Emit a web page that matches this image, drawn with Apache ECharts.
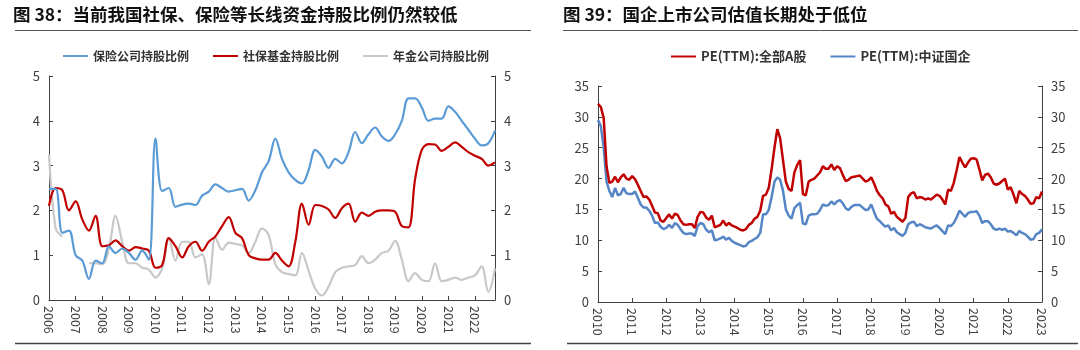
<!DOCTYPE html>
<html><head><meta charset="utf-8">
<script src="https://cdn.jsdelivr.net/npm/echarts/dist/echarts.min.js"></script>
<style>html,body{margin:0;padding:0;background:#fff}#c{width:1080px;height:350px}</style>
</head><body><div id="c"></div>
<script>
// ---- Left chart (quarterly, 2006Q1 - 2022Q4) ----
const yearsLeft = [2006,2007,2008,2009,2010,2011,2012,2013,2014,2015,2016,2017,2018,2019,2020,2021,2022];
const insuranceRatio = [
  2.48,2.48,1.5,1.55, 1.0,0.88,0.47,0.88, 0.82,1.2,1.05,1.15, 1.05,0.9,1.1,0.9,
  3.6,2.43,2.5,2.08, 2.13,2.15,2.12,2.33, 2.42,2.58,2.5,2.42, 2.45,2.48,2.22,2.45,
  2.85,3.1,3.6,3.15, 2.85,2.68,2.6,2.9, 3.35,3.2,2.95,3.15, 3.05,3.3,3.75,3.5,
  3.7,3.85,3.65,3.55, 3.7,4.0,4.5,4.5, 4.3,4.0,4.05,4.05, 4.32,4.2,4.0,3.8,
  3.6,3.45,3.5,3.78];
const socialSecurityRatio = [
  2.1,2.5,2.45,2.0, 2.2,1.8,1.55,1.88, 1.2,1.22,1.33,1.2, 1.1,1.18,1.15,1.1,
  0.72,0.78,1.38,1.2, 0.95,1.2,1.3,1.1, 1.3,1.42,1.65,1.85, 1.5,1.38,1.0,0.93,
  0.9,0.9,1.05,0.88, 0.75,1.3,2.15,1.68, 2.12,2.1,2.02,1.83, 2.05,2.15,1.75,1.95,
  1.88,1.97,2.0,2.0, 1.97,1.65,1.62,2.7, 3.35,3.48,3.47,3.33, 3.42,3.52,3.42,3.3,
  3.22,3.15,3.0,3.07];
const pensionRatio = [
  3.25,1.6,1.42,null, null,null,0.82,0.82, 0.8,1.15,1.88,1.3, 0.82,0.82,0.72,0.68,
  0.5,0.7,1.38,0.88, 1.3,1.3,0.95,1.02, 0.35,1.4,1.12,1.28, 1.25,1.22,1.05,1.3,
  1.6,1.45,0.8,0.62, 0.58,0.55,1.05,0.65, 0.25,0.1,0.3,0.62, 0.72,0.75,0.78,0.98,
  0.82,0.9,1.05,1.1, 1.32,0.9,0.42,0.6, 0.45,0.42,0.82,0.42, 0.45,0.5,0.45,0.5,
  0.55,0.75,0.18,0.7];
const leftNames = ['保险公司持股比例','社保基金持股比例','年金公司持股比例'];

// ---- Right chart (monthly, 2010-01 - 2023-01) ----
const yearsRight = [2010,2011,2012,2013,2014,2015,2016,2017,2018,2019,2020,2021,2022,2023];
const peAllA = [
  32.1,31.6,29.8,22.0,19.3,19.5,20.3,19.4,20.2,20.7,20.0,19.8,
  20.4,19.9,19.0,18.0,17.0,17.1,16.6,15.6,14.5,14.4,13.2,13.0,
  13.6,14.2,13.5,14.3,14.1,13.2,12.6,12.5,12.6,12.6,12.0,13.8,
  14.6,14.5,13.7,13.3,14.0,12.1,12.3,12.5,13.2,12.4,12.8,12.4,
  12.2,12.0,11.7,11.6,11.8,12.5,12.8,13.5,13.8,14.8,17.2,17.4,
  18.5,21.5,25.0,28.0,26.5,23.0,19.5,18.3,18.0,21.0,22.2,23.0,
  17.5,17.3,19.5,19.8,20.0,20.5,21.0,22.0,21.6,21.6,22.3,21.4,
  22.0,21.7,20.6,19.6,19.8,20.2,20.3,20.4,20.5,20.0,19.5,19.7,
  20.2,19.2,18.0,17.3,16.8,15.8,15.5,14.3,14.6,13.8,13.4,13.0,
  13.6,17.0,17.6,17.8,16.8,17.0,16.9,16.6,16.8,16.6,17.0,17.4,
  17.2,16.6,15.8,18.2,18.0,19.3,21.3,23.5,22.6,21.8,22.6,23.2,
  23.3,23.1,21.5,19.7,20.6,20.8,20.2,19.2,19.0,19.2,19.6,20.0,
  18.2,18.6,17.4,16.0,18.0,17.5,17.2,16.6,15.9,16.0,17.0,16.8,
  17.9];
const peStateOwned = [
  29.5,28.5,25.0,19.5,18.0,17.0,18.5,17.3,17.5,18.5,17.6,17.5,
  17.5,17.9,16.9,15.8,15.3,15.3,14.8,14.0,12.8,12.9,12.2,11.8,
  12.0,12.5,12.0,12.8,12.5,11.8,11.2,11.0,11.1,11.1,10.7,12.3,
  12.8,12.6,11.7,11.3,11.6,10.0,10.1,10.3,10.6,10.1,10.4,9.9,
  9.6,9.4,9.2,9.0,9.1,9.7,9.9,10.2,10.5,11.2,14.2,14.2,
  14.9,17.0,19.5,20.2,19.8,18.0,15.0,14.0,13.5,15.2,15.7,16.1,
  12.7,12.6,14.0,14.2,14.2,14.3,14.9,15.8,15.6,15.7,16.3,15.8,
  16.3,16.5,16.0,15.2,14.9,15.4,15.7,15.7,15.7,15.3,14.9,15.0,
  15.8,14.6,13.5,13.1,12.6,12.2,12.4,11.6,12.0,11.3,11.0,10.7,
  11.2,12.6,12.9,13.0,12.3,12.6,12.4,12.1,12.0,11.9,12.2,12.4,
  12.0,11.5,11.0,12.4,12.3,12.8,13.7,14.8,14.3,13.8,14.4,14.6,
  14.6,14.7,14.0,12.8,13.1,13.1,12.6,11.9,11.7,11.9,11.7,11.9,
  11.4,11.5,11.2,10.8,11.5,11.2,11.0,10.6,10.1,10.2,11.0,11.2,
  11.8];
const rightNames = ['PE(TTM):全部A股','PE(TTM):中证国企'];

// categories
const quarterCats = [];
yearsLeft.forEach(y => { for (let q = 1; q <= 4; q++) quarterCats.push(y + 'Q' + q); });
const monthCats = [];
yearsRight.forEach(y => { for (let m = 1; m <= 12; m++) { if (y === 2023 && m > 1) break; monthCats.push(y + '-' + (m < 10 ? '0' + m : m)); } });

const FONT = '"Noto Sans CJK SC", "Noto Sans", sans-serif';
const AX = '#404040';
const chart = echarts.init(document.getElementById('c'), null, {renderer: 'canvas'});

function yAx(gridIndex, pos, max, interval) {
  return {
    type: 'value', gridIndex, position: pos, min: 0, max, interval,
    axisLine: {show: true, lineStyle: {color: AX, width: 1}},
    axisTick: {show: true, inside: true, length: 4, lineStyle: {color: AX}},
    splitLine: {show: false},
    axisLabel: {color: AX, fontSize: 13, fontFamily: FONT, margin: 9}
  };
}
function xAx(gridIndex, cats, every) {
  return {
    type: 'category', gridIndex, data: cats, boundaryGap: false,
    axisLine: {show: true, lineStyle: {color: AX, width: 1}},
    axisTick: {show: true, inside: true, length: 4, interval: every - 1, lineStyle: {color: AX}},
    axisLabel: {interval: every - 1, rotate: -90, color: AX, fontSize: 12.5, fontFamily: FONT, margin: 6,
      formatter: v => v.slice(0, 4)}
  };
}

chart.setOption({
  animation: false,
  backgroundColor: '#fff',
  graphic: [
    {type: 'text', left: 13, top: 6, style: {text: '图 38：当前我国社保、保险等长线资金持股比例仍然较低', font: 'bold 17.5px ' + FONT, fill: '#111'}},
    {type: 'text', left: 563, top: 6, style: {text: '图 39：国企上市公司估值长期处于低位', font: 'bold 17.5px ' + FONT, fill: '#111'}},
    {type: 'line', shape: {x1: 15, y1: 30.5, x2: 531, y2: 30.5}, style: {stroke: '#555', lineWidth: 1}},
    {type: 'line', shape: {x1: 563, y1: 30.5, x2: 1078, y2: 30.5}, style: {stroke: '#555', lineWidth: 1}},
    {type: 'line', shape: {x1: 15, y1: 343.5, x2: 531, y2: 343.5}, style: {stroke: '#444', lineWidth: 1.5}},
    {type: 'line', shape: {x1: 567, y1: 343.5, x2: 1078, y2: 343.5}, style: {stroke: '#444', lineWidth: 1.5}}
  ],
  legend: [
    {data: leftNames, left: 58, top: 45, icon: 'rect', itemWidth: 25, itemHeight: 2, itemGap: 24,
     textStyle: {fontSize: 12, fontWeight: 'bold', color: '#333', fontFamily: FONT}},
    {data: rightNames, left: 666, top: 45, icon: 'rect', itemWidth: 25, itemHeight: 2, itemGap: 24,
     textStyle: {fontSize: 13, fontWeight: 'bold', color: '#333', fontFamily: FONT}}
  ],
  grid: [
    {left: 49, top: 76, width: 446, height: 224},
    {left: 598, top: 86, width: 444, height: 216}
  ],
  xAxis: [xAx(0, quarterCats, 4), xAx(1, monthCats, 12)],
  yAxis: [yAx(0, 'left', 5, 1), yAx(0, 'right', 5, 1), yAx(1, 'left', 35, 5), yAx(1, 'right', 35, 5)],
  series: [
    {name: leftNames[2], type: 'line', xAxisIndex: 0, yAxisIndex: 0, data: pensionRatio, smooth: 0.35,
     showSymbol: false, connectNulls: false, lineStyle: {color: '#c8c8c8', width: 2.2}, itemStyle: {color: '#c8c8c8'}},
    {name: leftNames[1], type: 'line', xAxisIndex: 0, yAxisIndex: 0, data: socialSecurityRatio, smooth: 0.35,
     showSymbol: false, lineStyle: {color: '#c00000', width: 2.2}, itemStyle: {color: '#c00000'}},
    {name: leftNames[0], type: 'line', xAxisIndex: 0, yAxisIndex: 0, data: insuranceRatio, smooth: 0.35,
     showSymbol: false, lineStyle: {color: '#5b9bd5', width: 2.2}, itemStyle: {color: '#5b9bd5'}},
    {name: rightNames[1], type: 'line', xAxisIndex: 1, yAxisIndex: 2, data: peStateOwned,
     showSymbol: false, lineStyle: {color: '#5585c5', width: 2.5}, itemStyle: {color: '#5585c5'}},
    {name: rightNames[0], type: 'line', xAxisIndex: 1, yAxisIndex: 2, data: peAllA,
     showSymbol: false, lineStyle: {color: '#c00000', width: 2.5}, itemStyle: {color: '#c00000'}}
  ]
});
</script>
</body></html>
